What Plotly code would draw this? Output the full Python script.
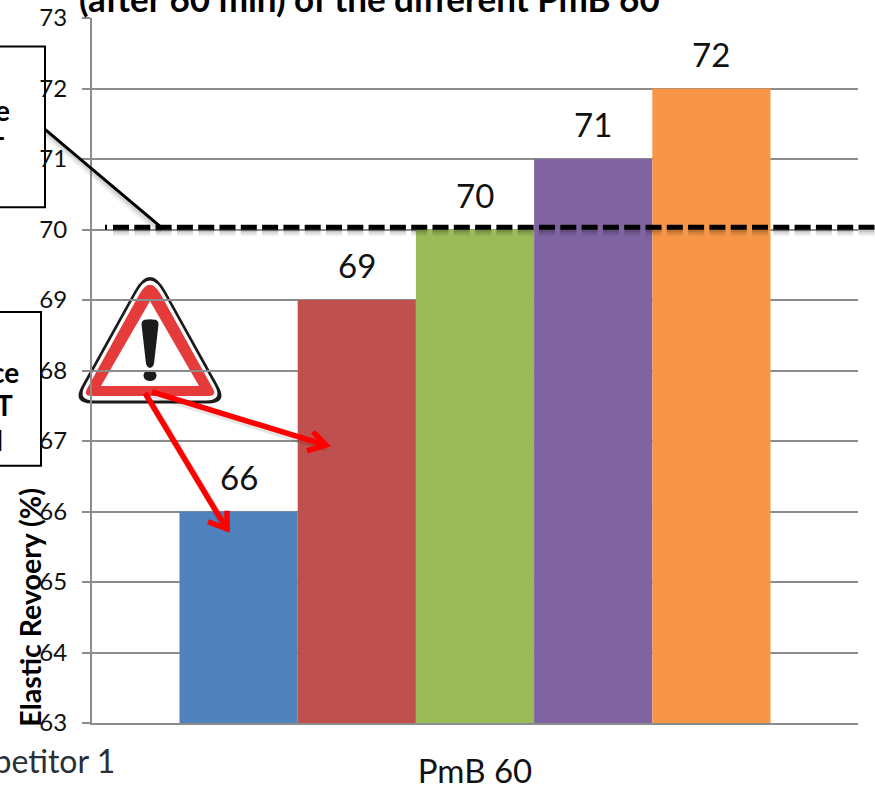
import plotly.graph_objects as go

# Elastic recovery after 60 min for five PmB 60 binders
positions = [1, 2, 3, 4, 5]
recovery = [66, 69, 70, 71, 72]
bar_colors = ["#4F81BD", "#C0504D", "#9BBB59", "#8064A2", "#F79646"]
y_ticks = [63, 64, 65, 66, 67, 68, 69, 70, 71, 72, 73]
category_label = "PmB 60"
title_text = "(after 60 min) of the different PmB 60"
y_title = "Elastic Revoery (%)"
requirement = 70

W, H = 875, 787
L, R, T, B = 92, 858, 17.5, 723.5
FONT = "Lato, Carlito, Calibri, sans-serif"


def fx(px):
    return (px - L) / (R - L)


def fy(py):
    return (B - py) / (B - T)


def path(points, close=False):
    d = "M" + " L".join(f"{fx(x):.5f},{fy(y):.5f}" for x, y in points)
    return d + (" Z" if close else "")


def rounded(points, radii):
    """Closed polygon with each corner rounded off by its own radius (pixels)."""
    n = len(points)
    d = []
    for i, (x, y) in enumerate(points):
        r = radii[i]
        px, py = points[i - 1]
        nx, ny = points[(i + 1) % n]
        l1 = ((px - x) ** 2 + (py - y) ** 2) ** 0.5
        l2 = ((nx - x) ** 2 + (ny - y) ** 2) ** 0.5
        a = (x + (px - x) * r / l1, y + (py - y) * r / l1)
        b = (x + (nx - x) * r / l2, y + (ny - y) * r / l2)
        d.append(("M" if i == 0 else "L") + f"{fx(a[0]):.5f},{fy(a[1]):.5f}")
        d.append(f"Q{fx(x):.5f},{fy(y):.5f} {fx(b[0]):.5f},{fy(b[1]):.5f}")
    return " ".join(d) + " Z"


def stroke(points, color, width, layer="above", dash=None):
    return dict(type="path", xref="paper", yref="paper", path=path(points),
                line=dict(color=color, width=width, dash=dash), layer=layer)


def filled(d, color, layer="below"):
    return dict(type="path", xref="paper", yref="paper", path=d,
                fillcolor=color, line=dict(width=0), layer=layer)


def box(x0, y0, x1, y1):
    return dict(type="rect", xref="paper", yref="paper",
                x0=fx(x0), x1=fx(x1), y0=fy(y0), y1=fy(y1),
                line=dict(color="black", width=2), fillcolor="white", layer="below")


shapes = [box(-10, 46, 45, 207), box(-10, 312, 41, 466)]

# Warning sign sits under the gridlines
shapes += [
    filled(rounded([(150, 263), (72, 403.5), (228, 403.5)], [32, 20, 20]), "#1c1a1b"),
    filled(rounded([(150, 268), (77, 400.5), (223, 400.5)], [28, 17, 17]), "#ffffff"),
    filled(rounded([(150, 275), (83, 396), (217, 396)], [22, 8, 8]), "#E63B3B"),
    filled(path([(150, 301), (101, 386), (199, 386)], True), "#ffffff"),
    filled(rounded([(141, 320), (150, 319), (159, 320), (153.5, 368), (146.5, 368)], [5, 5, 5, 5, 5]), "#1c1a1b"),
    dict(type="circle", xref="paper", yref="paper", x0=fx(143.5), x1=fx(156.5),
         y0=fy(381), y1=fy(370), fillcolor="#1c1a1b", line=dict(width=0), layer="below"),
]

# Soft drop shadows for the requirement line and its leader
for off, w, a in [(5, 8, 0.05), (4, 6, 0.08), (3, 4, 0.12)]:
    shapes.append(stroke([(113, 227 + off), (875, 227 + off)], f"rgba(0,0,0,{a})", w, dash="16px,5.3px"))
    shapes.append(stroke([(46, 129 + off), (161, 227 + off)], f"rgba(0,0,0,{a * 0.7})", w))

shapes += [
    stroke([(45, 129), (161, 227)], "black", 3),
    stroke([(105, 227), (107, 227)], "black", 5),
    stroke([(113, 227), (875, 227)], "black", 5, dash="16px,5.3px"),
]

# Red arrows from the warning sign to the two failing bars
arrows = [
    [(152, 392), (325, 445)],
    [(145, 393), (226, 528)],
]
heads = [
    [(313, 432), (326, 445), (307, 451)],
    [(227, 511), (227, 529), (208, 522)],
]
for line, head in zip(arrows, heads):
    shifted = [(x + 2, y + 3) for x, y in line]
    shapes.append(stroke(shifted, "rgba(0,0,0,0.10)", 7))
    shapes.append(stroke(line, "#FF0000", 5.5))
    shapes.append(stroke(head, "#FF0000", 5.5))

annotations = [
    dict(x=p, y=v, xref="x", yref="y", text=str(v), showarrow=False, yanchor="bottom",
         yshift=13, font=dict(family=FONT, size=33, color="#111111"))
    for p, v in zip(positions, recovery)
]


def pixel_text(text, x, y, xanchor, size, bold=False, color="black", angle=0):
    return dict(x=fx(x), y=fy(y), xref="paper", yref="paper", xanchor=xanchor, yanchor="middle",
                text=f"<b>{text}</b>" if bold else text, showarrow=False, textangle=angle,
                font=dict(family=FONT, size=size, color=color))


annotations += [
    pixel_text(title_text, 369, -3, "center", 35, bold=True),
    pixel_text(y_title, 30, 608, "center", 28.5, bold=True, angle=-90),
    pixel_text("Competitor 1", 117, 761, "right", 32, color="#2b2f36"),
    pixel_text("e", 12, 110, "right", 28, bold=True),
    pixel_text("-", 7, 136, "right", 28, bold=True),
    pixel_text("ce", 21, 372, "right", 28, bold=True),
    pixel_text("T", 15, 405, "right", 28, bold=True),
    pixel_text("l", 5, 440, "right", 28, bold=True),
]

fig = go.Figure(go.Bar(x=positions, y=recovery, width=1, marker=dict(color=bar_colors, line=dict(width=0)),
                       showlegend=False))

half_span = (R - L) / 2 / 118.2
fig.update_layout(
    width=W, height=H, autosize=False,
    margin=dict(l=L, r=W - R, t=T, b=H - B, pad=0, autoexpand=False),
    paper_bgcolor="white", plot_bgcolor="rgba(0,0,0,0)",
    shapes=shapes, annotations=annotations, showlegend=False,
    xaxis=dict(range=[3 - half_span, 3 + half_span], tickmode="array", tickvals=[3],
               ticktext=[category_label], ticks="", showgrid=False, zeroline=False,
               showline=True, linecolor="#8c8c8c", linewidth=2,
               tickfont=dict(family=FONT, size=33, color="#111111"), ticklabelstandoff=18),
    yaxis=dict(range=[63, 73], tickmode="array", tickvals=y_ticks, ticks="outside", ticklen=8,
               tickcolor="#8c8c8c", tickwidth=1.5, showgrid=True, gridcolor="#8c8c8c", gridwidth=1.5,
               zeroline=False, showline=True, linecolor="#8c8c8c", linewidth=2,
               tickfont=dict(family=FONT, size=24, color="#111111"), ticklabelstandoff=10),
)

fig.write_html("out.html", config=dict(displayModeBar=False))
